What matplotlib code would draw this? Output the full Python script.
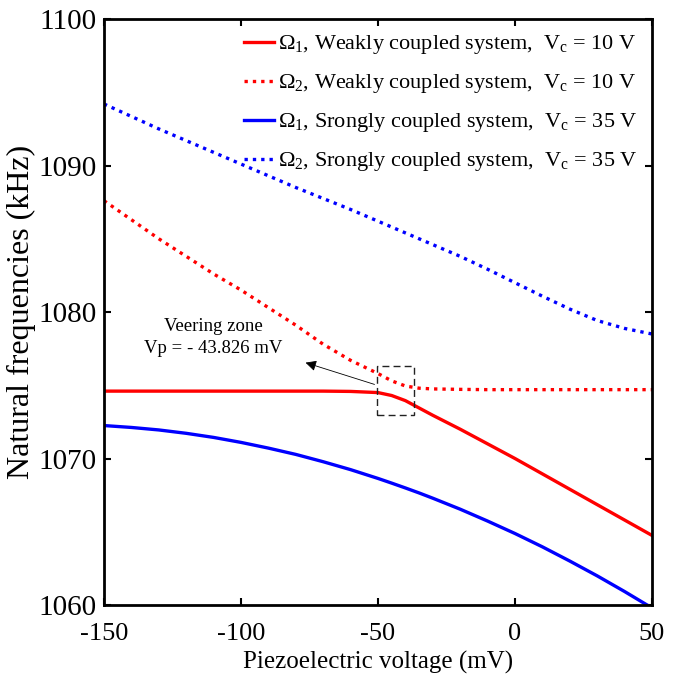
import matplotlib.pyplot as plt
from matplotlib.patches import Rectangle

plt.rcParams['font.family'] = ['Liberation Serif', 'DejaVu Serif']
plt.rcParams['mathtext.fontset'] = 'custom'
plt.rcParams['mathtext.rm'] = 'Liberation Serif'
plt.rcParams['mathtext.it'] = 'Liberation Serif:italic'
plt.rcParams['axes.unicode_minus'] = False

# piezoelectric voltage (mV)
v = [-150, -140, -130, -120, -110, -100, -90, -80, -70, -60, -50, -45, -40,
     -35, -30, -20, -10, 0, 10, 20, 30, 40, 50]

# weakly coupled, Vc = 10 V
w1 = [1074.6, 1074.6, 1074.6, 1074.6, 1074.6, 1074.6, 1074.6, 1074.6, 1074.6,
      1074.58, 1074.5, 1074.3, 1073.95, 1073.45, 1072.95, 1072.0, 1071.0,
      1070.0, 1068.95, 1067.9, 1066.85, 1065.8, 1064.75]
w2 = [1087.6, 1086.3, 1085.0, 1083.8, 1082.6, 1081.5, 1080.3, 1079.1, 1077.8,
      1076.7, 1075.8, 1075.3, 1074.95, 1074.8, 1074.75, 1074.72, 1074.7,
      1074.7, 1074.7, 1074.7, 1074.7, 1074.7, 1074.7]

# strongly coupled, Vc = 35 V
s1 = [1072.25, 1072.12, 1071.95, 1071.72, 1071.44, 1071.1, 1070.71, 1070.28,
      1069.78, 1069.24, 1068.64, 1068.32, 1067.99, 1067.65, 1067.29, 1066.54,
      1065.73, 1064.88, 1063.97, 1063.0, 1061.99, 1060.92, 1059.8]
s2 = [1094.2, 1093.35, 1092.5, 1091.7, 1090.9, 1090.1, 1089.3, 1088.5,
      1087.75, 1087.0, 1086.2, 1085.8, 1085.4, 1085.0, 1084.6, 1083.8,
      1082.92, 1082.0, 1081.08, 1080.2, 1079.42, 1078.88, 1078.5]

lab_w1 = r'$\Omega_1$, Weakly coupled system,  V$_\mathrm{c}$ = 10 V'
lab_w2 = r'$\Omega_2$, Weakly coupled system,  V$_\mathrm{c}$ = 10 V'
lab_s1 = r'$\Omega_1$, Srongly coupled system,  V$_\mathrm{c}$ = 35 V'
lab_s2 = r'$\Omega_2$, Srongly coupled system,  V$_\mathrm{c}$ = 35 V'

fig = plt.figure(figsize=(6.81, 6.82), dpi=100)
ax = fig.add_axes([0.1527, 0.1129, 0.8047, 0.8592])

dots = (0, (1, 1.5))
ax.plot(v, w1, color='#ff0000', lw=2.4, label=lab_w1)
ax.plot(v, w2, color='#ff0000', lw=2.4, ls=dots, label=lab_w2)
ax.plot(v, s1, color='#0000ff', lw=2.4, label=lab_s1)
ax.plot(v, s2, color='#0000ff', lw=2.4, ls=dots, label=lab_s2)

# veering zone box and annotation
ax.add_patch(Rectangle((-50.4, 1073.0), 13.5, 3.3, fill=False, ec='#222222',
                       lw=1.0, ls=(0, (5, 3)), zorder=5))
ax.annotate('', xy=(-77.4, 1076.6), xytext=(-50.3, 1075.0),
            arrowprops=dict(arrowstyle='-|>', color='black', lw=0.6,
                            mutation_scale=16))
ax.text(-110.0, 1079.0, 'Veering zone', fontsize=13.5, ha='center',
        va='center')
ax.text(-110.0, 1077.5, 'Vp = - 43.826 mV', fontsize=13.5, ha='center',
        va='center')

ax.set_xlim(-150, 50)
ax.set_ylim(1060, 1100)
ax.set_xticks([-150, -100, -50, 0, 50])
ax.set_yticks([1060, 1070, 1080, 1090, 1100])
ax.tick_params(direction='in', length=5, width=1.5, top=True, right=True)
ax.tick_params(axis='x', labelsize=19, pad=13)
ax.tick_params(axis='y', labelsize=21, pad=5)
for s in ax.spines.values():
    s.set_linewidth(2.0)

ax.set_xlabel('Piezoelectric voltage (mV)', fontsize=18, labelpad=4)
ax.set_ylabel('Natural frequencies (kHz)', fontsize=23, labelpad=2)

ax.legend(loc='upper right', frameon=False, fontsize=16, handlelength=1.35,
          handletextpad=0.2, labelspacing=0.72, borderaxespad=0.35,
          borderpad=0.3)

plt.savefig('out.png', dpi=100)
